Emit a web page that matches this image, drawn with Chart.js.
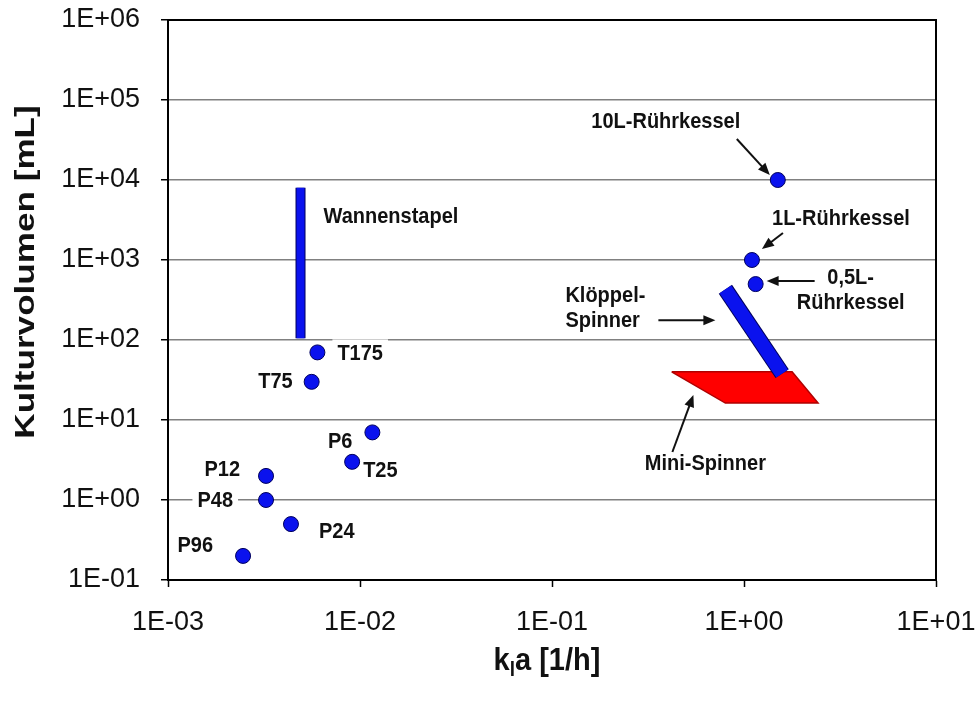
<!DOCTYPE html>
<html>
<head>
<meta charset="utf-8">
<title>Kulturvolumen über kLa</title>
<script src="https://cdn.jsdelivr.net/npm/chart.js@4.4.1/dist/chart.umd.min.js"></script>
<style>
  html, body { margin: 0; padding: 0; background: #fff; }
</style>
</head>
<body>
<canvas id="klaChart" width="980" height="704"></canvas>
<script>
// Kulturgefäße: kLa [1/h] und Kulturvolumen [mL]
const vesselNames = ["P96", "P48", "P24", "P12", "T25", "P6", "T75", "T175", "0,5L-Rührkessel", "1L-Rührkessel", "10L-Rührkessel"];
const vesselKla = [0.00246, 0.00324, 0.00437, 0.00324, 0.0091, 0.0116, 0.0056, 0.0060, 1.15, 1.10, 1.50];
const vesselVolume = [0.2, 1, 0.5, 2, 3, 7, 30, 70, 500, 1000, 10000];

// Wannenstapel: Volumenbereich bei gleichem kLa
const stackKla = [0.0049, 0.0049];
const stackVolume = [105, 8000];

// Klöppel-Spinner: Band vom oberen zum unteren Ende
const spinnerKla = [0.80, 1.58];
const spinnerVolume = [430, 38];

// Mini-Spinner: Eckpunkte der Fläche
const miniKla = [0.42, 1.78, 2.43, 0.80];
const miniVolume = [40, 40, 16.3, 16.3];

const xTicks = [1e-3, 1e-2, 1e-1, 1, 10];
const yTicks = [1e-1, 1, 10, 100, 1e3, 1e4, 1e5, 1e6];

const FONT = "'Liberation Sans', Arial, sans-serif";
const BLUE = "#0a12ee";
const NAVY = "#00005c";

// Beschriftung der Punkte (Pixelversatz zum Punkt)
const vesselLabels = {
  "P96":  { lines: ["P96"], dx: -30, dy: [-10], align: "right" },
  "P48":  { lines: ["P48"], dx: -33, dy: [1], align: "right", bg: true },
  "P24":  { lines: ["P24"], dx: 28, dy: [8], align: "left" },
  "P12":  { lines: ["P12"], dx: -26, dy: [-6], align: "right" },
  "T25":  { lines: ["T25"], dx: 11, dy: [9], align: "left" },
  "P6":   { lines: ["P6"], dx: -20, dy: [9], align: "right" },
  "T75":  { lines: ["T75"], dx: -19, dy: [0], align: "right" },
  "T175": { lines: ["T175"], dx: 20, dy: [1], align: "left", bg: true },
  "0,5L-Rührkessel": { lines: ["0,5L-", "Rührkessel"], dx: 95, dy: [-6, 19], align: "center", arrow: [59, -3, 11, -3] },
  "1L-Rührkessel":   { lines: ["1L-Rührkessel"], dx: 89, dy: [-41], align: "center", arrow: [31, -27, 10, -11] },
  "10L-Rührkessel":  { lines: ["10L-Rührkessel"], dx: -112, dy: [-58], align: "center", arrow: [-41, -41, -8, -5] }
};

function sci(v) {
  const e = Math.round(Math.log10(v));
  return "1E" + (e < 0 ? "-" : "+") + String(Math.abs(e)).padStart(2, "0");
}

function drawArrow(ctx, x1, y1, x2, y2) {
  const ang = Math.atan2(y2 - y1, x2 - x1);
  const len = 12, half = 5;
  ctx.beginPath();
  ctx.moveTo(x1, y1);
  ctx.lineTo(x2 - (len - 2) * Math.cos(ang), y2 - (len - 2) * Math.sin(ang));
  ctx.stroke();
  ctx.beginPath();
  ctx.moveTo(x2, y2);
  ctx.lineTo(x2 - len * Math.cos(ang) + half * Math.sin(ang), y2 - len * Math.sin(ang) - half * Math.cos(ang));
  ctx.lineTo(x2 - len * Math.cos(ang) - half * Math.sin(ang), y2 - len * Math.sin(ang) + half * Math.cos(ang));
  ctx.closePath();
  ctx.fill();
}

// fette Beschriftung, leicht in die Höhe gezogen
function drawLabel(ctx, text, x, y, align, bg) {
  ctx.save();
  ctx.font = "bold 20px " + FONT;
  ctx.textAlign = align;
  ctx.textBaseline = "middle";
  if (bg) {
    const w = ctx.measureText(text).width;
    const left = align === "right" ? x - w : align === "center" ? x - w / 2 : x;
    ctx.fillStyle = "#fff";
    ctx.fillRect(left - 5, y - 14, w + 10, 28);
  }
  ctx.translate(x, y);
  ctx.scale(1, 1.12);
  ctx.fillStyle = "#111";
  ctx.fillText(text, 0, 0);
  ctx.restore();
}

// Rahmen um die Zeichenfläche
const framePlugin = {
  id: "frame",
  beforeDatasetsDraw(chart) {
    const { ctx, chartArea: a } = chart;
    ctx.save();
    ctx.strokeStyle = "#000";
    ctx.lineWidth = 2;
    ctx.strokeRect(a.left, a.top, a.right - a.left, a.bottom - a.top);
    ctx.restore();
  }
};

// Texte, Pfeile und Achsentitel
const notesPlugin = {
  id: "notes",
  afterDatasetsDraw(chart) {
    const { ctx } = chart;
    const xs = chart.scales.x, ys = chart.scales.y;
    ctx.save();
    ctx.strokeStyle = "#111";
    ctx.fillStyle = "#111";
    ctx.lineWidth = 2;

    vesselNames.forEach((name, i) => {
      const cfg = vesselLabels[name];
      const px = xs.getPixelForValue(vesselKla[i]);
      const py = ys.getPixelForValue(vesselVolume[i]);
      cfg.lines.forEach((t, k) => drawLabel(ctx, t, px + cfg.dx, py + cfg.dy[k], cfg.align, cfg.bg));
      if (cfg.arrow) {
        drawArrow(ctx, px + cfg.arrow[0], py + cfg.arrow[1], px + cfg.arrow[2], py + cfg.arrow[3]);
      }
    });

    // Wannenstapel
    const sx = xs.getPixelForValue(stackKla[1]);
    const sy = ys.getPixelForValue(stackVolume[1]);
    drawLabel(ctx, "Wannenstapel", sx + 23, sy + 29, "left");

    // Klöppel-Spinner
    const kx = xs.getPixelForValue(spinnerKla[0]);
    const ky = ys.getPixelForValue(spinnerVolume[0]);
    drawLabel(ctx, "Klöppel-", kx - 160, ky + 6, "left");
    drawLabel(ctx, "Spinner", kx - 160, ky + 31, "left");
    drawArrow(ctx, kx - 67, ky + 31, kx - 10, ky + 31);

    // Mini-Spinner
    const mx = xs.getPixelForValue(miniKla[3]);
    const my = ys.getPixelForValue(miniVolume[3]);
    drawLabel(ctx, "Mini-Spinner", mx - 20, my + 61, "center");
    drawArrow(ctx, mx - 53, my + 49, mx - 32, my - 8);
    ctx.restore();
  },
  afterDraw(chart) {
    const { ctx } = chart;
    ctx.save();
    ctx.fillStyle = "#111";
    ctx.textBaseline = "middle";
    // y-Achsentitel
    ctx.translate(27, 272);
    ctx.rotate(-Math.PI / 2);
    ctx.scale(1.3, 1);
    ctx.font = "bold 27px " + FONT;
    ctx.textAlign = "center";
    ctx.fillText("Kulturvolumen [mL]", 0, 0);
    ctx.restore();

    // x-Achsentitel mit tiefgestelltem l
    ctx.save();
    ctx.fillStyle = "#111";
    ctx.textBaseline = "alphabetic";
    ctx.textAlign = "left";
    const big = "bold 29px " + FONT, small = "bold 19px " + FONT;
    ctx.font = big; const wk = ctx.measureText("k").width;
    const wr = ctx.measureText("a [1/h]").width;
    ctx.font = small; const wl = ctx.measureText("l").width;
    ctx.translate(547 - (wk + wl + wr) / 2, 670);
    ctx.scale(1, 1.1);
    let x = 0;
    ctx.font = big; ctx.fillText("k", x, 0); x += wk;
    ctx.font = small; ctx.fillText("l", x, 5); x += wl;
    ctx.font = big; ctx.fillText("a [1/h]", x, 0);
    ctx.restore();
  }
};

const toPoints = (xArr, yArr) => xArr.map((v, i) => ({ x: v, y: yArr[i] }));
const closed = pts => pts.concat([pts[0]]);

new Chart(document.getElementById("klaChart"), {
  type: "scatter",
  data: {
    datasets: [
      {
        label: "Kulturgefäße",
        data: toPoints(vesselKla, vesselVolume),
        pointRadius: 7.5,
        pointHoverRadius: 7.5,
        backgroundColor: BLUE,
        borderColor: NAVY,
        borderWidth: 1
      },
      {
        type: "line",
        label: "Klöppel-Spinner",
        data: toPoints(spinnerKla, spinnerVolume),
        borderColor: BLUE,
        borderWidth: 14,
        borderCapStyle: "butt",
        pointRadius: 0,
        fill: false
      },
      {
        type: "line",
        label: "Klöppel-Spinner Rand",
        data: toPoints(spinnerKla, spinnerVolume),
        borderColor: NAVY,
        borderWidth: 16,
        borderCapStyle: "butt",
        pointRadius: 0,
        fill: false
      },
      {
        type: "line",
        label: "Mini-Spinner",
        data: closed(toPoints(miniKla, miniVolume)),
        borderColor: "#b00000",
        borderWidth: 1.5,
        backgroundColor: "#ff0000",
        pointRadius: 0,
        fill: "shape"
      },
      {
        type: "line",
        label: "Wannenstapel",
        data: toPoints(stackKla, stackVolume),
        borderColor: BLUE,
        borderWidth: 8,
        borderCapStyle: "butt",
        pointRadius: 0,
        fill: false
      },
      {
        type: "line",
        label: "Wannenstapel Rand",
        data: toPoints(stackKla, stackVolume),
        borderColor: NAVY,
        borderWidth: 10,
        borderCapStyle: "butt",
        pointRadius: 0,
        fill: false
      }
    ]
  },
  options: {
    responsive: false,
    animation: false,
    layout: { padding: { top: 20, right: 44, left: 0, bottom: 0 } },
    plugins: {
      legend: { display: false },
      tooltip: { enabled: false }
    },
    scales: {
      x: {
        type: "logarithmic",
        min: 1e-3,
        max: 10,
        afterBuildTicks: s => { s.ticks = xTicks.map(v => ({ value: v, major: true })); },
        afterFit: s => { s.height = 124; s.paddingLeft = 0; s.paddingRight = 0; },
        ticks: {
          callback: v => sci(v),
          font: { family: FONT, size: 27 },
          color: "#111",
          padding: 19,
          maxRotation: 0,
          autoSkip: false
        },
        grid: { drawOnChartArea: false, drawTicks: true, tickLength: 7, tickColor: "#000", tickWidth: 1.5 },
        border: { color: "#000", width: 2 }
      },
      y: {
        type: "logarithmic",
        min: 1e-1,
        max: 1e6,
        afterBuildTicks: s => { s.ticks = yTicks.map(v => ({ value: v, major: true })); },
        afterFit: s => { s.width = 168; s.paddingTop = 0; s.paddingBottom = 0; },
        ticks: {
          callback: v => sci(v),
          font: { family: FONT, size: 27 },
          color: "#111",
          padding: 21,
          autoSkip: false
        },
        grid: { color: "#808080", lineWidth: 1.5, drawTicks: true, tickLength: 7, tickColor: "#000", tickWidth: 1.5 },
        border: { color: "#000", width: 2 }
      }
    }
  },
  plugins: [framePlugin, notesPlugin]
});
</script>
</body>
</html>
